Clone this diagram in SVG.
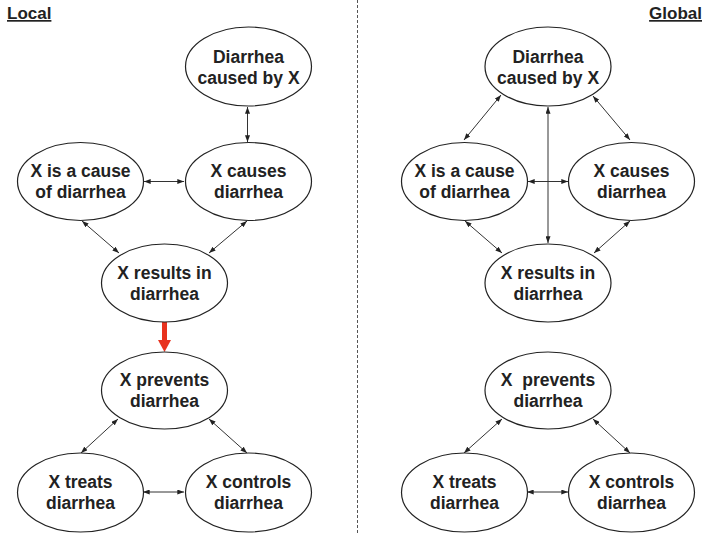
<svg xmlns="http://www.w3.org/2000/svg" width="704" height="535" viewBox="0 0 704 535">
<defs>
<marker id="ah" viewBox="0 0 8 6" refX="8" refY="3" markerWidth="7" markerHeight="5" orient="auto-start-reverse" markerUnits="userSpaceOnUse">
<path d="M0,0 L8,3 L0,6 z" fill="#222"/>
</marker>
</defs>
<style>
.n ellipse{fill:#fff;stroke:#222;stroke-width:1.2}
.n text{font-family:"Liberation Sans",Arial,sans-serif;font-weight:bold;font-size:17.5px;fill:#222;text-anchor:middle}
.c line{stroke:#333;stroke-width:1;marker-start:url(#ah);marker-end:url(#ah)}
.t{font-family:"Liberation Sans",Arial,sans-serif;font-weight:bold;font-size:17px;fill:#222;text-decoration:underline}
</style>
<rect width="704" height="535" fill="#fff"/>
<line x1="357.5" y1="0" x2="357.5" y2="535" stroke="#555" stroke-width="1" stroke-dasharray="3,2"/>
<text class="t" x="7" y="19">Local</text>
<text class="t" x="702" y="19" text-anchor="end">Global</text>

<g id="connectors" class="c">
<line x1="247.5" y1="107" x2="247.5" y2="142"/>
<line x1="144" y1="181.5" x2="184" y2="181.5"/>
<line x1="82" y1="221" x2="119" y2="253"/>
<line x1="247" y1="221" x2="209" y2="253"/>
<line x1="118" y1="419" x2="81" y2="453"/>
<line x1="209" y1="419" x2="247" y2="453"/>
<line x1="143" y1="492" x2="184" y2="492"/>

<line x1="501" y1="95" x2="464" y2="140"/>
<line x1="593" y1="96" x2="630" y2="140"/>
<line x1="548" y1="107" x2="548" y2="243"/>
<line x1="528" y1="181.5" x2="568" y2="181.5"/>
<line x1="465" y1="221" x2="502" y2="253"/>
<line x1="630" y1="221" x2="594" y2="253"/>
<line x1="502" y1="419" x2="464" y2="453"/>
<line x1="593" y1="419" x2="630" y2="453"/>
<line x1="527" y1="492" x2="568" y2="492"/>
<g id="red-arrow">
<rect x="162" y="322" width="5" height="19" fill="#e8321e"/>
<path d="M158,340 L171,340 L164.5,352 z" fill="#e8321e"/>
</g>
</g>

<g id="L-diarrhea-caused" class="n"><ellipse cx="248.5" cy="66.5" rx="63" ry="39.5"/><text x="248.5" y="63">Diarrhea</text><text x="248.5" y="84">caused by X</text></g>
<g id="L-is-cause" class="n"><ellipse cx="80.5" cy="181.5" rx="63" ry="39"/><text x="80.5" y="177">X is a cause</text><text x="80.5" y="198">of diarrhea</text></g>
<g id="L-causes" class="n"><ellipse cx="248.5" cy="181.5" rx="63" ry="39"/><text x="248.5" y="177">X causes</text><text x="248.5" y="198">diarrhea</text></g>
<g id="L-results" class="n"><ellipse cx="164.5" cy="283" rx="63" ry="39"/><text x="164.5" y="279">X results in</text><text x="164.5" y="300">diarrhea</text></g>
<g id="L-prevents" class="n"><ellipse cx="164.5" cy="390.5" rx="63" ry="38.5"/><text x="164.5" y="386">X prevents</text><text x="164.5" y="407">diarrhea</text></g>
<g id="L-treats" class="n"><ellipse cx="80.5" cy="492.5" rx="63" ry="39.5"/><text x="80.5" y="488">X treats</text><text x="80.5" y="509">diarrhea</text></g>
<g id="L-controls" class="n"><ellipse cx="248.5" cy="492.5" rx="63" ry="39.5"/><text x="248.5" y="488">X controls</text><text x="248.5" y="509">diarrhea</text></g>

<g id="G-diarrhea-caused" class="n"><ellipse cx="548" cy="66.5" rx="63" ry="39.5"/><text x="548" y="63">Diarrhea</text><text x="548" y="84">caused by X</text></g>
<g id="G-is-cause" class="n"><ellipse cx="464.5" cy="181.5" rx="63" ry="39"/><text x="464.5" y="177">X is a cause</text><text x="464.5" y="198">of diarrhea</text></g>
<g id="G-causes" class="n"><ellipse cx="631.5" cy="181.5" rx="63" ry="39"/><text x="631.5" y="177">X causes</text><text x="631.5" y="198">diarrhea</text></g>
<g id="G-results" class="n"><ellipse cx="548" cy="283" rx="63" ry="39"/><text x="548" y="279">X results in</text><text x="548" y="300">diarrhea</text></g>
<g id="G-prevents" class="n"><ellipse cx="548" cy="390.5" rx="63" ry="38.5"/><text x="548" y="386" xml:space="preserve">X  prevents</text><text x="548" y="407">diarrhea</text></g>
<g id="G-treats" class="n"><ellipse cx="464.5" cy="492.5" rx="63" ry="39.5"/><text x="464.5" y="488">X treats</text><text x="464.5" y="509">diarrhea</text></g>
<g id="G-controls" class="n"><ellipse cx="631.5" cy="492.5" rx="63" ry="39.5"/><text x="631.5" y="488">X controls</text><text x="631.5" y="509">diarrhea</text></g>
</svg>
